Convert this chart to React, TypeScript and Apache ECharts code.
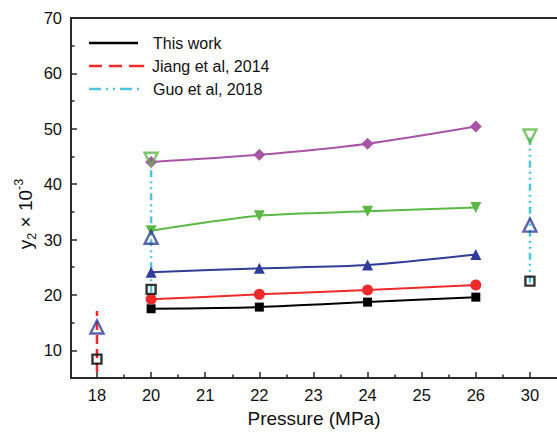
import React, { useEffect, useRef } from "react";
import * as echarts from "echarts";

// x axis is a broken axis: tick labels placed at equal spacing
const pressureTicks = [18, 20, 21, 22, 23, 24, 25, 26, 30];
const yTicks = [10, 20, 30, 40, 50, 60, 70];
const yMinorTicks = [15, 25, 35, 45, 55, 65];

// This work (solid lines, filled symbols)
const thisWorkPressure = [20, 22, 24, 26];
const blackSquare = [17.5, 17.8, 18.7, 19.6];
const redCircle = [19.2, 20.1, 20.9, 21.8];
const blueTriangle = [24.1, 24.8, 25.4, 27.3];
const greenDown = [31.6, 34.3, 35.1, 35.8];
const purpleDiamond = [44.0, 45.3, 47.3, 50.4];

// Jiang et al, 2014 (at 18 MPa)
const jiangPressure = 18;
const jiangSquare = 8.4;
const jiangTriangle = 14.2;
const jiangRange = [6.1, 17.1];

// Guo et al, 2018 (at 20 and 30 MPa)
const guoPressure = [20, 30];
const guoSquare = [21.0, 22.5];
const guoTriangle = [30.4, 32.6];
const guoDown = [44.5, 48.7];
const guoRangeLow = [20.5, 22.2];
const guoRangeHigh = [44.5, 48.7];

const seriesNames = ["This work", "Jiang et al, 2014", "Guo et al, 2018"];

const C = {
  black: "#000000",
  red: "#ee2a2a",
  blue: "#2f3d98",
  green: "#5cb845",
  purple: "#a855a6",
  cyan: "#4fc4de",
};

const GRID = { left: 71, top: 18, width: 489.5, height: 360 };
const AX = "#2a2a2a";

const xi = (p: number) => pressureTicks.indexOf(p);

export default function App() {
  const ref = useRef<HTMLDivElement>(null);
  useEffect(() => {
    if (!ref.current) return;
    const chart = echarts.init(ref.current, null, { renderer: "svg" });
    const font = "'Liberation Sans', Arial, sans-serif";

    const solid = (data: number[], color: string, symbol: string, size: number, rotate = 0) => ({
      type: "line",
      data: thisWorkPressure.map((p, i) => [xi(p), data[i]]),
      smooth: 0.25,
      symbol,
      symbolSize: size,
      symbolRotate: rotate,
      showSymbol: true,
      lineStyle: { color, width: 2 },
      itemStyle: { color, borderWidth: 0 },
      z: 5,
    });

    const openMarks = (pts: [number, number][], color: string, symbol: string, size: number, rotate = 0) => ({
      type: "scatter",
      data: pts,
      symbol,
      symbolSize: size,
      symbolRotate: rotate,
      itemStyle: { color: "rgba(255,255,255,0)", borderColor: color, borderWidth: 2.4 },
      z: 6,
    });

    const vline = (x: number, lo: number, hi: number, color: string, dash: number[]) => ({
      type: "line",
      data: [[x, lo], [x, hi]],
      symbol: "none",
      lineStyle: { color, width: 2.5, type: dash },
      z: 3,
    });

    const option: any = {
      animation: false,
      backgroundColor: "#ffffff",
      textStyle: { fontFamily: font },
      grid: { ...GRID, show: false },
      xAxis: [
        {
          type: "value",
          min: -0.48,
          max: 8.5,
          name: "Pressure (MPa)",
          nameLocation: "middle",
          nameGap: 31,
          nameTextStyle: { fontSize: 19, color: "#111", fontFamily: font },
          axisLine: { show: true, onZero: false, lineStyle: { color: AX, width: 2 } },
          axisTick: { show: true, inside: true, length: 6, lineStyle: { color: AX, width: 1.5 }, customValues: pressureTicks.map((_, i) => i) },
          axisLabel: {
            customValues: pressureTicks.map((_, i) => i),
            formatter: (v: number) => String(pressureTicks[Math.round(v)] ?? ""),
            fontSize: 16.5,
            color: "#111",
            margin: 8,
            fontFamily: font,
          },
          splitLine: { show: false },
        },
        {
          type: "value",
          min: -0.48,
          max: 8.5,
          position: "bottom",
          axisLine: { show: false, onZero: false },
          axisTick: { show: true, inside: true, length: 3.5, lineStyle: { color: AX, width: 1.5 }, customValues: pressureTicks.slice(0, -1).map((_, i) => i + 0.5) },
          axisLabel: { show: false },
          splitLine: { show: false },
        },
      ],
      yAxis: [
        {
          type: "value",
          min: 5,
          max: 70,
          position: "left",
          axisLine: { show: true, onZero: false, lineStyle: { color: AX, width: 2 } },
          axisTick: { show: true, inside: true, length: 6, lineStyle: { color: AX, width: 1.5 }, customValues: yTicks },
          axisLabel: { customValues: yTicks, fontSize: 16.5, color: "#111", margin: 9, fontFamily: font },
          splitLine: { show: false },
        },
        {
          type: "value",
          min: 5,
          max: 70,
          position: "left",
          axisLine: { show: false, onZero: false },
          axisTick: { show: true, inside: true, length: 3.5, lineStyle: { color: AX, width: 1.5 }, customValues: yMinorTicks },
          axisLabel: { show: false },
          splitLine: { show: false },
        },
      ],
      graphic: [
        // plot frame
        {
          type: "rect",
          shape: { x: GRID.left, y: GRID.top, width: GRID.width, height: GRID.height },
          style: { fill: "none", stroke: AX, lineWidth: 2 },
          z: 10,
          silent: true,
        },
        {
          type: "text",
          x: 25,
          y: 214,
          rotation: Math.PI / 2,
          style: {
            text: "{i|y}{sub|2}{n| × 10}{sup|-3}",
            align: "center",
            verticalAlign: "middle",
            fill: "#111",
            rich: {
              i: { fontSize: 19, fontFamily: font, fill: "#111", color: "#111" },
              sub: { fontSize: 12.5, fontFamily: font, verticalAlign: "bottom", lineHeight: 26, padding: [9, 0, 0, 0], fill: "#111", color: "#111" },
              n: { fontSize: 19, fontFamily: font, fill: "#111", color: "#111" },
              sup: { fontSize: 12.5, fontFamily: font, verticalAlign: "top", lineHeight: 26, padding: [0, 0, 9, 0], fill: "#111", color: "#111" },
            },
          },
        },
        // legend
        { type: "line", shape: { x1: 89, y1: 43, x2: 138, y2: 43 }, style: { stroke: C.black, lineWidth: 2.5 } },
        { type: "text", x: 153, y: 43, style: { text: seriesNames[0], fontSize: 16, fontFamily: font, fill: "#111", verticalAlign: "middle" } },
        { type: "line", shape: { x1: 89, y1: 66, x2: 143, y2: 66 }, style: { stroke: C.red, lineWidth: 2.5, lineDash: [13, 7] } },
        { type: "circle", shape: { cx: 143, cy: 66, r: 1.3 }, style: { fill: C.red } },
        { type: "text", x: 152, y: 66, style: { text: seriesNames[1], fontSize: 16, fontFamily: font, fill: "#111", verticalAlign: "middle" } },
        { type: "line", shape: { x1: 89, y1: 89, x2: 140, y2: 89 }, style: { stroke: C.cyan, lineWidth: 2.5, lineDash: [12, 5, 2, 5, 2, 5] } },
        { type: "text", x: 153, y: 89, style: { text: seriesNames[2], fontSize: 16, fontFamily: font, fill: "#111", verticalAlign: "middle" } },
      ],
      series: [
        // literature vertical lines
        vline(xi(jiangPressure), jiangRange[0], jiangRange[1], C.red, [9, 5]),
        ...guoPressure.map((p, i) => vline(xi(p), guoRangeLow[i], guoRangeHigh[i], C.cyan, [7, 4, 2, 4, 2, 4])),
        // this work
        solid(blackSquare, C.black, "rect", 9),
        solid(redCircle, C.red, "circle", 11),
        solid(blueTriangle, C.blue, "triangle", 11),
        solid(greenDown, C.green, "triangle", 11, 180),
        solid(purpleDiamond, C.purple, "diamond", 12),
        // literature markers
        openMarks([[xi(jiangPressure), jiangSquare], ...guoPressure.map((p, i) => [xi(p), guoSquare[i]] as [number, number])], C.black, "rect", 9),
        openMarks([[xi(jiangPressure), jiangTriangle], ...guoPressure.map((p, i) => [xi(p), guoTriangle[i]] as [number, number])], C.blue, "triangle", 13),
        openMarks(guoPressure.map((p, i) => [xi(p), guoDown[i]] as [number, number]), C.green, "triangle", 13, 180),
      ],
    };
    chart.setOption(option);
    return () => chart.dispose();
  }, []);
  return (
    <div
      ref={ref}
      style={{ position: "fixed", left: 0, top: 0, width: 557, height: 433, background: "#fff" }}
    />
  );
}
